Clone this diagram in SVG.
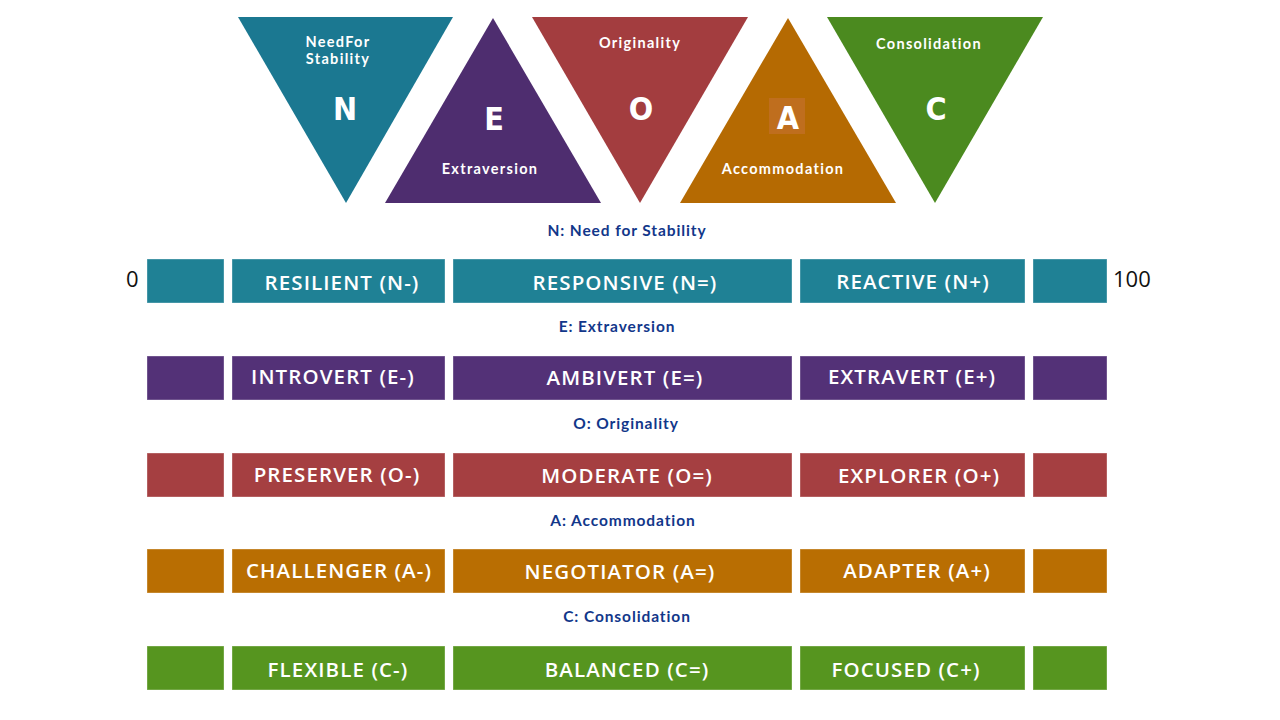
<svg xmlns="http://www.w3.org/2000/svg" width="1280" height="720" viewBox="0 0 1280 720">
<style>
.tl{font-family:Lato,"Open Sans",sans-serif;font-weight:bold;font-size:14.5px;fill:#fff;text-anchor:middle;letter-spacing:1.3px}
.big{font-family:"DejaVu Sans Condensed","DejaVu Sans",sans-serif;font-stretch:condensed;font-weight:bold;font-size:32px;fill:#fff;text-anchor:middle}
.hd{font-family:Lato,"Open Sans",sans-serif;font-weight:bold;font-size:15.5px;fill:#12378a;text-anchor:middle;letter-spacing:0.9px}
.bl{font-family:"Open Sans",Lato,sans-serif;font-weight:600;font-size:20.5px;fill:#fff;text-anchor:middle;letter-spacing:1.1px}
.num{font-family:"Open Sans",sans-serif;font-size:22px;fill:#111}
.n{fill:#1f8195}.e{fill:#533177}.o{fill:#a53f41}.a{fill:#b96e02}.c{fill:#56951f}
.seg{stroke-width:1;stroke-opacity:0.35;stroke:#fff}
</style>
<g id="tri-N">
<polygon points="238,17 453,17 346,203" fill="#1b7891"/>
<text class="tl" x="338" y="47">NeedFor</text>
<text class="tl" x="338" y="64">Stability</text>
<text class="big" x="345" y="120">N</text>
</g>
<g id="tri-E">
<polygon points="493,18 601,203 385,203" fill="#4e2d6f"/>
<text class="big" x="494" y="130">E</text>
<text class="tl" x="490" y="174">Extraversion</text>
</g>
<g id="tri-O">
<polygon points="532,17 748,17 640,203" fill="#a33d3f"/>
<text class="tl" x="640" y="48">Originality</text>
<text class="big" x="641" y="120">O</text>
</g>
<g id="tri-A">
<polygon points="788,18 896,203 680,203" fill="#b56a02"/>
<rect x="769" y="98" width="36" height="36" fill="#bf6e1e"/>
<text class="big" x="788" y="129">A</text>
<text class="tl" x="783" y="174">Accommodation</text>
</g>
<g id="tri-C">
<polygon points="827,17 1043,17 935,203" fill="#4b8a1f"/>
<text class="tl" x="929" y="49">Consolidation</text>
<text class="big" x="936" y="120">C</text>
</g>
<text class="num" x="126" y="287">0</text>
<text class="num" x="1113" y="287">100</text>
<g id="row-N">
<text class="hd" x="627" y="236">N: Need for Stability</text>
<rect class="n seg" x="147" y="259" width="77" height="44"/>
<rect class="n seg" x="232" y="259" width="213" height="44"/>
<rect class="n seg" x="453" y="259" width="339" height="44"/>
<rect class="n seg" x="800" y="259" width="225" height="44"/>
<rect class="n seg" x="1033" y="259" width="74" height="44"/>
<text class="bl" x="342" y="290">RESILIENT (N-)</text>
<text class="bl" x="625" y="290">RESPONSIVE (N=)</text>
<text class="bl" x="913" y="289">REACTIVE (N+)</text>
</g>
<g id="row-E">
<text class="hd" x="617" y="332">E: Extraversion</text>
<rect class="e seg" x="147" y="356" width="77" height="44"/>
<rect class="e seg" x="232" y="356" width="213" height="44"/>
<rect class="e seg" x="453" y="356" width="339" height="44"/>
<rect class="e seg" x="800" y="356" width="225" height="44"/>
<rect class="e seg" x="1033" y="356" width="74" height="44"/>
<text class="bl" x="333" y="384">INTROVERT (E-)</text>
<text class="bl" x="625" y="385">AMBIVERT (E=)</text>
<text class="bl" x="912" y="384">EXTRAVERT (E+)</text>
</g>
<g id="row-O">
<text class="hd" x="626" y="429">O: Originality</text>
<rect class="o seg" x="147" y="453" width="77" height="44"/>
<rect class="o seg" x="232" y="453" width="213" height="44"/>
<rect class="o seg" x="453" y="453" width="339" height="44"/>
<rect class="o seg" x="800" y="453" width="225" height="44"/>
<rect class="o seg" x="1033" y="453" width="74" height="44"/>
<text class="bl" x="337" y="482">PRESERVER (O-)</text>
<text class="bl" x="627" y="483">MODERATE (O=)</text>
<text class="bl" x="919" y="483">EXPLORER (O+)</text>
</g>
<g id="row-A">
<text class="hd" x="623" y="526">A: Accommodation</text>
<rect class="a seg" x="147" y="549" width="77" height="44"/>
<rect class="a seg" x="232" y="549" width="213" height="44"/>
<rect class="a seg" x="453" y="549" width="339" height="44"/>
<rect class="a seg" x="800" y="549" width="225" height="44"/>
<rect class="a seg" x="1033" y="549" width="74" height="44"/>
<text class="bl" x="339" y="578">CHALLENGER (A-)</text>
<text class="bl" x="620" y="579">NEGOTIATOR (A=)</text>
<text class="bl" x="917" y="578">ADAPTER (A+)</text>
</g>
<g id="row-C">
<text class="hd" x="627" y="622">C: Consolidation</text>
<rect class="c seg" x="147" y="646" width="77" height="44"/>
<rect class="c seg" x="232" y="646" width="213" height="44"/>
<rect class="c seg" x="453" y="646" width="339" height="44"/>
<rect class="c seg" x="800" y="646" width="225" height="44"/>
<rect class="c seg" x="1033" y="646" width="74" height="44"/>
<text class="bl" x="338" y="677">FLEXIBLE (C-)</text>
<text class="bl" x="627" y="677">BALANCED (C=)</text>
<text class="bl" x="906" y="677">FOCUSED (C+)</text>
</g>
</svg>
